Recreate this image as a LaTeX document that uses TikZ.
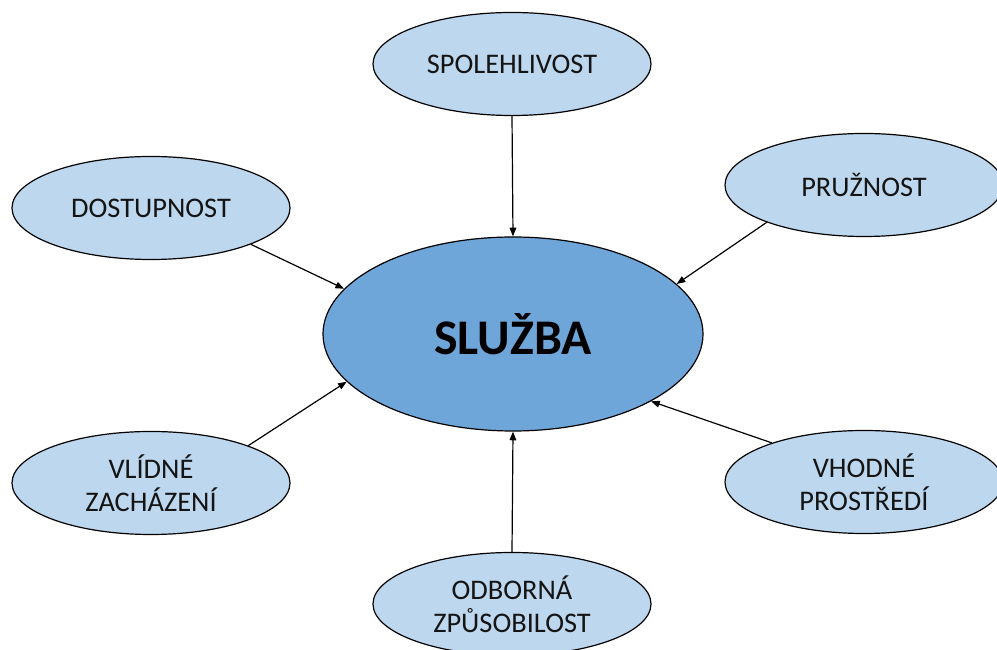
\documentclass[tikz,border=0pt]{standalone}
\usepackage{fontspec}
\setmainfont{Carlito}
\usetikzlibrary{shapes.geometric,arrows.meta}
\definecolor{lightfill}{RGB}{189,215,238}
\definecolor{mainfill}{RGB}{111,166,217}
\definecolor{txt}{RGB}{20,20,20}
\tikzset{
  small/.style={ellipse,draw=black,line width=0.9pt,fill=lightfill,inner sep=0pt,
    minimum width=208.5pt,minimum height=77.25pt,align=center,
    font=\fontsize{21.3}{25}\selectfont,text=txt},
  big/.style={ellipse,draw=black,line width=0.9pt,fill=mainfill,inner sep=0pt,
    minimum width=285pt,minimum height=145.5pt,
    font=\fontsize{37.4}{44}\selectfont\bfseries,text=black},
  conn/.style={line width=0.9pt,-{Triangle[length=6.5pt,width=5pt]}}
}
\begin{document}
\begin{tikzpicture}[x=0.75pt,y=0.75pt]
\useasboundingbox (0,0) rectangle (997,650);
\clip (0,0) rectangle (997,650);
\node[big] (sluz) at (513,316) {SLUŽBA};
\node[small] (spol) at (512,586) {SPOLEHLIVOST};
\node[small] (dost) at (151,442) {DOSTUPNOST};
\node[small] (pruz) at (864,465) {PRUŽNOST};
\node[small] (vlid) at (151,167) {VLÍDNÉ\\ZACHÁZENÍ};
\node[small] (vhod) at (864,168) {VHODNÉ\\PROSTŘEDÍ};
\node[small] (odb) at (512,46) {ODBORNÁ\\ZPŮSOBILOST};
\draw[conn] (spol.south) -- (sluz.north);
\draw[conn] (odb.north) -- (sluz.south);
\draw[conn] (dost.-20.8) -- (sluz.165.6);
\draw[conn] (pruz.201.9) -- (sluz.17.9);
\draw[conn] (vlid.21.3) -- (sluz.196.2);
\draw[conn] (vhod.157.9) -- (sluz.-26.4);
\end{tikzpicture}
\end{document}
